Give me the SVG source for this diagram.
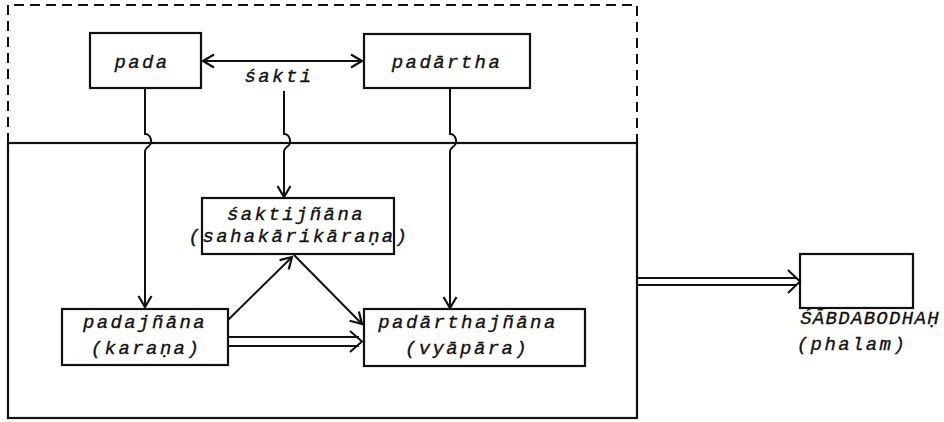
<svg xmlns="http://www.w3.org/2000/svg" width="944" height="422" viewBox="0 0 944 422">
<style>
.box{fill:none;stroke:#111;stroke-width:2.2}
.ln{fill:none;stroke:#111;stroke-width:2}
.t{font-family:"Liberation Mono","DejaVu Sans Mono",monospace;font-style:italic;font-size:19px;letter-spacing:2.4px;fill:#111;stroke:#111;stroke-width:0.35;text-anchor:middle}
.c{letter-spacing:1.3px}
</style>
<defs>
<marker id="ah" markerWidth="16" markerHeight="16" refX="13" refY="8" orient="auto-start-reverse" markerUnits="userSpaceOnUse">
<path d="M2,1.5 L13,8 L2,14.5" fill="none" stroke="#111" stroke-width="2.2"/>
</marker>
</defs>
<rect width="944" height="422" fill="#fff"/>
<g id="frames">
<path class="ln" d="M8,143 V5 H637 V143" stroke-dasharray="10,6"/>
<rect class="box" x="8" y="143" width="629" height="275"/>
</g>
<g id="n-pada"><rect class="box" x="90" y="33" width="111" height="55"/><text class="t" x="142" y="68">pada</text></g>
<g id="n-padartha"><rect class="box" x="364" y="34" width="166" height="54"/><text class="t" x="447" y="68">padārtha</text></g>
<g id="n-sakti"><text class="t" x="279" y="82">śakti</text></g>
<g id="n-saktijnana"><rect class="box" x="202" y="198" width="192" height="56"/><text class="t" x="296" y="220">śaktijñāna</text><text class="t" x="299" y="242">(sahakārikāraṇa)</text></g>
<g id="n-padajnana"><rect class="box" x="62" y="309" width="166" height="56"/><text class="t" x="145" y="328">padajñāna</text><text class="t" x="146" y="354">(karaṇa)</text></g>
<g id="n-padarthajnana"><rect class="box" x="364" y="309" width="221" height="57"/><text class="t" x="468" y="328">padārthajñāna</text><text class="t" x="467" y="354">(vyāpāra)</text></g>
<g id="n-sabdabodha"><rect class="box" x="800" y="254" width="113" height="54"/><text class="t c" x="870" y="324">ŚĀBDABODHAḤ</text><text class="t" x="852" y="350">(phalam)</text></g>
<g id="connectors">
<line class="ln" x1="203" y1="61" x2="362" y2="61" marker-start="url(#ah)" marker-end="url(#ah)"/>
<path class="ln" d="M145,88 V134 C151,134 153,143 149,146 C146,148 145,149 145,152 V307" marker-end="url(#ah)"/>
<path class="ln" d="M284,91 V134 C290,134 292,143 288,146 C285,148 284,149 284,152 V197" marker-end="url(#ah)"/>
<path class="ln" d="M450,88 V134 C456,134 458,143 454,146 C451,148 450,149 450,152 V308" marker-end="url(#ah)"/>
<line class="ln" x1="228" y1="320" x2="292" y2="257" marker-end="url(#ah)"/>
<line class="ln" x1="294" y1="255" x2="362" y2="324" marker-end="url(#ah)"/>
<path class="ln" d="M228,337 H359 M228,346 H359"/>
<path class="ln" d="M350,331 L362,341.5 L350,352"/>
<path class="ln" d="M637,278 H797 M637,285 H797"/>
<path class="ln" d="M788,270 L800,281.5 L788,293"/>
</g>
</svg>
